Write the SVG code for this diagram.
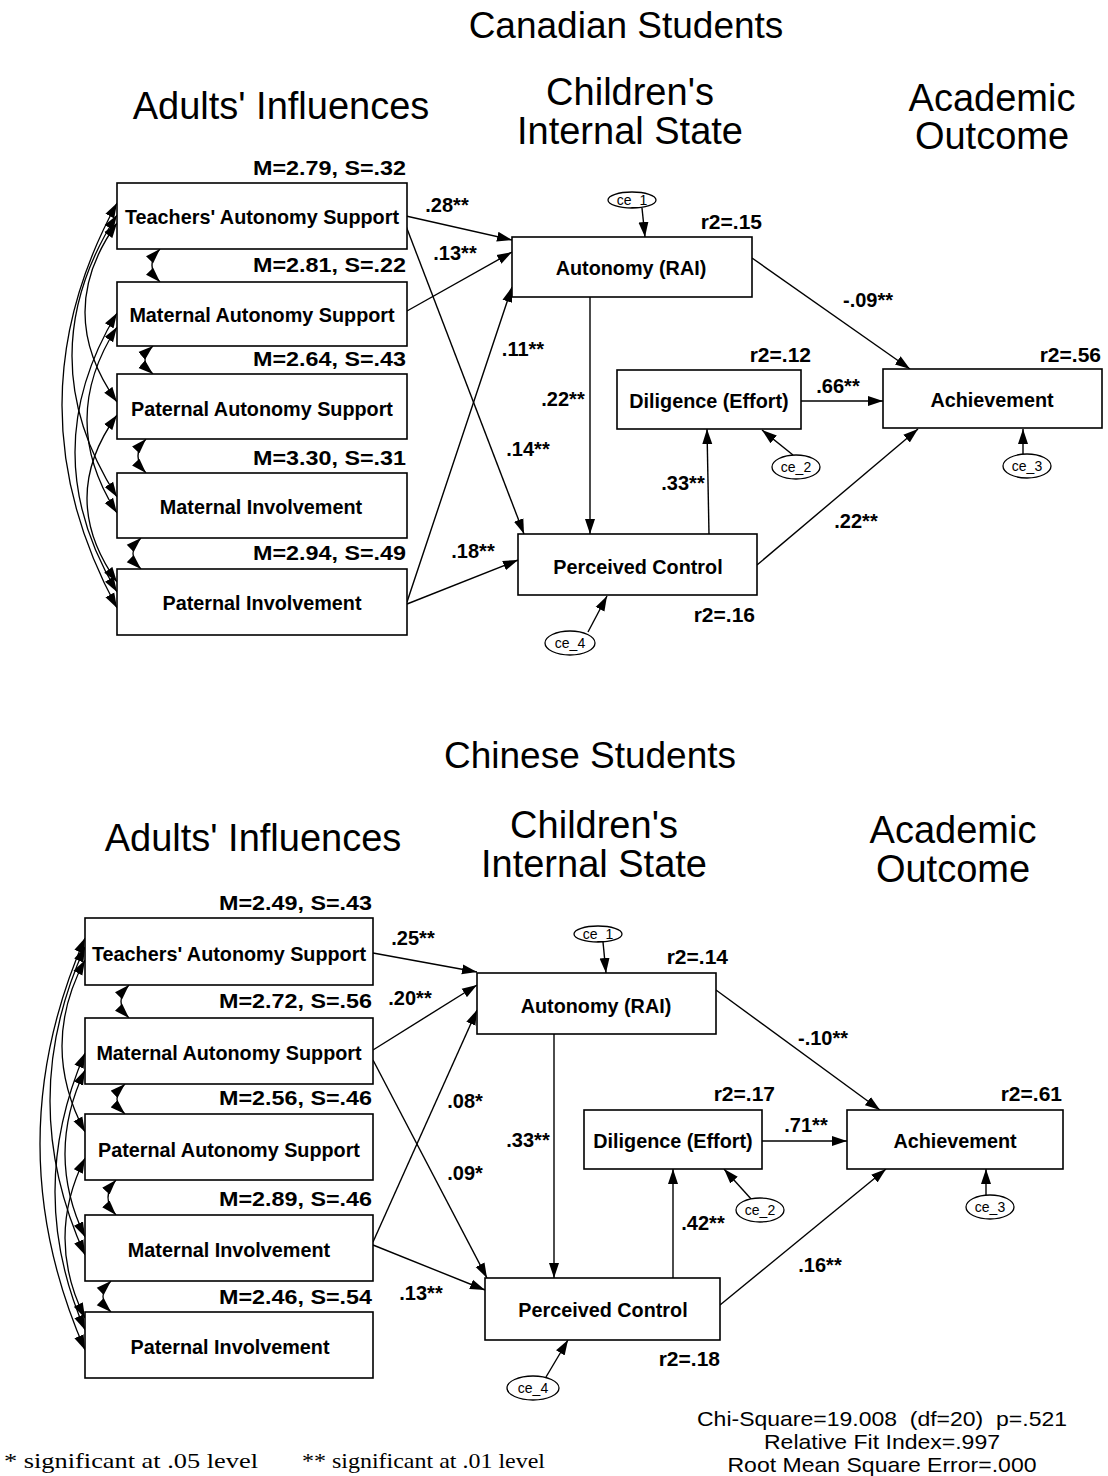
<svg xmlns="http://www.w3.org/2000/svg" width="1108" height="1476" viewBox="0 0 1108 1476">
  <defs>
    <marker id="ah" markerUnits="userSpaceOnUse" markerWidth="16" markerHeight="11" refX="15" refY="5.5" orient="auto-start-reverse">
      <path d="M0,0.5 L15,5.5 L0,10.5 z" fill="#000"/>
    </marker>
    <style>
      .box { fill: #fff; stroke: #000; stroke-width: 1.6; }
      .ell { fill: #fff; stroke: #000; stroke-width: 1.3; }
      .lbl { font-family: "Liberation Sans", Arial, sans-serif; font-weight: bold; font-size: 19.8px; text-anchor: middle; }
      .ms { font-family: "Liberation Sans", Arial, sans-serif; font-weight: bold; font-size: 21px; text-anchor: end; }
      .r2 { font-family: "Liberation Sans", Arial, sans-serif; font-weight: bold; font-size: 21px; text-anchor: end; }
      .coef { font-family: "Liberation Sans", Arial, sans-serif; font-weight: bold; font-size: 20px; text-anchor: middle; }
      .err { font-family: "Liberation Sans", Arial, sans-serif; font-size: 14px; text-anchor: middle; }
      .title { font-family: "Liberation Sans", Arial, sans-serif; font-size: 37px; text-anchor: middle; }
      .head { font-family: "Liberation Sans", Arial, sans-serif; font-size: 38px; text-anchor: middle; }
      .fit { font-family: "Liberation Sans", Arial, sans-serif; font-size: 21px; text-anchor: middle; white-space: pre; }
      .note { font-family: "Liberation Serif", "Times New Roman", serif; font-size: 22px; }
      .path { fill: none; stroke: #000; stroke-width: 1.4; marker-end: url(#ah); }
      .cov { fill: none; stroke: #000; stroke-width: 1.3; marker-start: url(#ah); marker-end: url(#ah); }
    </style>
  </defs>

  <rect width="1108" height="1476" fill="#fff"/>

  <!-- ===================== Canadian model ===================== -->
  <text class="title" x="626" y="38">Canadian Students</text>
  <text class="head" x="281" y="119">Adults' Influences</text>
  <text class="head" x="630" y="105">Children's</text>
  <text class="head" x="630" y="144">Internal State</text>
  <text class="head" x="992" y="111">Academic</text>
  <text class="head" x="992" y="149">Outcome</text>

  <g id="ca-connectors">
    <!-- covariances among adult influences -->
    <path class="cov" d="M117,203 Q7,405 117,608"/>
    <path class="cov" d="M117,215 Q27,356 117,497"/>
    <path class="cov" d="M117,223 Q53,312 117,402"/>
    <path class="cov" d="M117,313 Q33,452 117,592"/>
    <path class="cov" d="M117,327 Q57,420 117,513"/>
    <path class="cov" d="M117,415 Q57,498 117,582"/>
    <path class="cov" d="M160,249 Q144,265.5 160,282"/>
    <path class="cov" d="M153,346 Q137,360 153,374"/>
    <path class="cov" d="M146,439 Q130,456 146,473"/>
    <path class="cov" d="M141,538 Q125,553.5 141,569"/>
    <!-- structural paths -->
    <path class="path" d="M406,216 L512,240"/>
    <path class="path" d="M407,311 L512,252"/>
    <path class="path" d="M407,602 L512,287"/>
    <path class="path" d="M406,226 L524,534"/>
    <path class="path" d="M407,604 L518,560"/>
    <path class="path" d="M590,297 L590,534"/>
    <path class="path" d="M709,534 L707,429"/>
    <path class="path" d="M757,565 L918,429"/>
    <path class="path" d="M752,258 L910,369"/>
    <path class="path" d="M801,401 L883,401"/>
    <!-- residual errors -->
    <path class="path" d="M642,208 L645,237"/>
    <path class="path" d="M793,455 L762,430"/>
    <path class="path" d="M1023,454 L1023,429"/>
    <path class="path" d="M588,632 L607,596"/>
    <!-- coefficients -->
    <text class="coef" x="447" y="212">.28**</text>
    <text class="coef" x="455" y="260">.13**</text>
    <text class="coef" x="523" y="356">.11**</text>
    <text class="coef" x="563" y="406">.22**</text>
    <text class="coef" x="528" y="456">.14**</text>
    <text class="coef" x="683" y="490">.33**</text>
    <text class="coef" x="856" y="528">.22**</text>
    <text class="coef" x="868" y="307">-.09**</text>
    <text class="coef" x="838" y="393">.66**</text>
    <text class="coef" x="473" y="558">.18**</text>
  </g>

  <g id="ca-teachers-autonomy">
    <rect class="box" x="117" y="183" width="290" height="66"/>
    <text class="lbl" x="262" y="224">Teachers' Autonomy Support</text>
    <text class="ms" x="406" y="175" textLength="153" lengthAdjust="spacingAndGlyphs">M=2.79, S=.32</text>
  </g>
  <g id="ca-maternal-autonomy">
    <rect class="box" x="117" y="282" width="290" height="64"/>
    <text class="lbl" x="262" y="322">Maternal Autonomy Support</text>
    <text class="ms" x="406" y="272" textLength="153" lengthAdjust="spacingAndGlyphs">M=2.81, S=.22</text>
  </g>
  <g id="ca-paternal-autonomy">
    <rect class="box" x="117" y="374" width="290" height="65"/>
    <text class="lbl" x="262" y="416">Paternal Autonomy Support</text>
    <text class="ms" x="406" y="366" textLength="153" lengthAdjust="spacingAndGlyphs">M=2.64, S=.43</text>
  </g>
  <g id="ca-maternal-involvement">
    <rect class="box" x="117" y="473" width="290" height="65"/>
    <text class="lbl" x="261" y="514">Maternal Involvement</text>
    <text class="ms" x="406" y="465" textLength="153" lengthAdjust="spacingAndGlyphs">M=3.30, S=.31</text>
  </g>
  <g id="ca-paternal-involvement">
    <rect class="box" x="117" y="569" width="290" height="66"/>
    <text class="lbl" x="262" y="610">Paternal Involvement</text>
    <text class="ms" x="406" y="560" textLength="153" lengthAdjust="spacingAndGlyphs">M=2.94, S=.49</text>
  </g>
  <g id="ca-autonomy">
    <rect class="box" x="512" y="237" width="240" height="60"/>
    <text class="lbl" x="631" y="275">Autonomy (RAI)</text>
    <text class="r2" x="762" y="229">r2=.15</text>
  </g>
  <g id="ca-diligence">
    <rect class="box" x="617" y="370" width="184" height="59"/>
    <text class="lbl" x="709" y="408">Diligence (Effort)</text>
    <text class="r2" x="811" y="362">r2=.12</text>
  </g>
  <g id="ca-achievement">
    <rect class="box" x="883" y="369" width="219" height="59"/>
    <text class="lbl" x="992" y="407">Achievement</text>
    <text class="r2" x="1101" y="362">r2=.56</text>
  </g>
  <g id="ca-control">
    <rect class="box" x="518" y="534" width="239" height="61"/>
    <text class="lbl" x="638" y="574">Perceived Control</text>
    <text class="r2" x="755" y="622">r2=.16</text>
  </g>
  <g id="ca-ce1">
    <ellipse class="ell" cx="632" cy="200" rx="24" ry="8"/>
    <text class="err" x="632" y="205">ce_1</text>
  </g>
  <g id="ca-ce2">
    <ellipse class="ell" cx="796" cy="467" rx="24" ry="12"/>
    <text class="err" x="796" y="472">ce_2</text>
  </g>
  <g id="ca-ce3">
    <ellipse class="ell" cx="1027" cy="466" rx="24" ry="12"/>
    <text class="err" x="1027" y="471">ce_3</text>
  </g>
  <g id="ca-ce4">
    <ellipse class="ell" cx="570" cy="643" rx="25" ry="12"/>
    <text class="err" x="570" y="648">ce_4</text>
  </g>

  <!-- ===================== Chinese model ===================== -->
  <text class="title" x="590" y="768">Chinese Students</text>
  <text class="head" x="253" y="851">Adults' Influences</text>
  <text class="head" x="594" y="838">Children's</text>
  <text class="head" x="594" y="877">Internal State</text>
  <text class="head" x="953" y="843">Academic</text>
  <text class="head" x="953" y="882">Outcome</text>

  <g id="cn-connectors">
    <!-- covariances among adult influences -->
    <path class="cov" d="M85,938 Q-5,1144 85,1350"/>
    <path class="cov" d="M85,947 Q15,1101 85,1255"/>
    <path class="cov" d="M85,960 Q39,1046 85,1132"/>
    <path class="cov" d="M85,1053 Q25,1192 85,1330"/>
    <path class="cov" d="M85,1070 Q45,1154 85,1237"/>
    <path class="cov" d="M85,1158 Q45,1238 85,1318"/>
    <path class="cov" d="M129,985 Q113,1001.5 129,1018"/>
    <path class="cov" d="M125,1084 Q109,1099 125,1114"/>
    <path class="cov" d="M116,1180 Q100,1197.5 116,1215"/>
    <path class="cov" d="M111,1281 Q95,1296.5 111,1312"/>
    <!-- structural paths -->
    <path class="path" d="M373,953 L477,972"/>
    <path class="path" d="M373,1050 L477,985"/>
    <path class="path" d="M373,1242 L477,1010"/>
    <path class="path" d="M373,1060 L487,1278"/>
    <path class="path" d="M373,1245 L485,1290"/>
    <path class="path" d="M554,1034 L554,1278"/>
    <path class="path" d="M673,1278 L673,1169"/>
    <path class="path" d="M720,1305 L886,1169"/>
    <path class="path" d="M716,990 L880,1110"/>
    <path class="path" d="M762,1141 L847,1141"/>
    <!-- residual errors -->
    <path class="path" d="M603,942 L606,973"/>
    <path class="path" d="M752,1200 L724,1169"/>
    <path class="path" d="M986,1195 L986,1169"/>
    <path class="path" d="M546,1377 L568,1340"/>
    <!-- coefficients -->
    <text class="coef" x="413" y="945">.25**</text>
    <text class="coef" x="410" y="1005">.20**</text>
    <text class="coef" x="465" y="1108">.08*</text>
    <text class="coef" x="465" y="1180">.09*</text>
    <text class="coef" x="421" y="1300">.13**</text>
    <text class="coef" x="528" y="1147">.33**</text>
    <text class="coef" x="703" y="1230">.42**</text>
    <text class="coef" x="820" y="1272">.16**</text>
    <text class="coef" x="823" y="1045">-.10**</text>
    <text class="coef" x="806" y="1132">.71**</text>
  </g>

  <g id="cn-teachers-autonomy">
    <rect class="box" x="85" y="918" width="288" height="67"/>
    <text class="lbl" x="229" y="961">Teachers' Autonomy Support</text>
    <text class="ms" x="372" y="910" textLength="153" lengthAdjust="spacingAndGlyphs">M=2.49, S=.43</text>
  </g>
  <g id="cn-maternal-autonomy">
    <rect class="box" x="85" y="1018" width="288" height="66"/>
    <text class="lbl" x="229" y="1060">Maternal Autonomy Support</text>
    <text class="ms" x="372" y="1008" textLength="153" lengthAdjust="spacingAndGlyphs">M=2.72, S=.56</text>
  </g>
  <g id="cn-paternal-autonomy">
    <rect class="box" x="85" y="1114" width="288" height="66"/>
    <text class="lbl" x="229" y="1157">Paternal Autonomy Support</text>
    <text class="ms" x="372" y="1105" textLength="153" lengthAdjust="spacingAndGlyphs">M=2.56, S=.46</text>
  </g>
  <g id="cn-maternal-involvement">
    <rect class="box" x="85" y="1215" width="288" height="66"/>
    <text class="lbl" x="229" y="1257">Maternal Involvement</text>
    <text class="ms" x="372" y="1206" textLength="153" lengthAdjust="spacingAndGlyphs">M=2.89, S=.46</text>
  </g>
  <g id="cn-paternal-involvement">
    <rect class="box" x="85" y="1312" width="288" height="66"/>
    <text class="lbl" x="230" y="1354">Paternal Involvement</text>
    <text class="ms" x="372" y="1304" textLength="153" lengthAdjust="spacingAndGlyphs">M=2.46, S=.54</text>
  </g>
  <g id="cn-autonomy">
    <rect class="box" x="477" y="973" width="239" height="61"/>
    <text class="lbl" x="596" y="1013">Autonomy (RAI)</text>
    <text class="r2" x="728" y="964">r2=.14</text>
  </g>
  <g id="cn-diligence">
    <rect class="box" x="584" y="1110" width="178" height="59"/>
    <text class="lbl" x="673" y="1148">Diligence (Effort)</text>
    <text class="r2" x="775" y="1101">r2=.17</text>
  </g>
  <g id="cn-achievement">
    <rect class="box" x="847" y="1110" width="216" height="59"/>
    <text class="lbl" x="955" y="1148">Achievement</text>
    <text class="r2" x="1062" y="1101">r2=.61</text>
  </g>
  <g id="cn-control">
    <rect class="box" x="485" y="1278" width="235" height="62"/>
    <text class="lbl" x="603" y="1317">Perceived Control</text>
    <text class="r2" x="720" y="1366">r2=.18</text>
  </g>
  <g id="cn-ce1">
    <ellipse class="ell" cx="598" cy="934" rx="24" ry="8"/>
    <text class="err" x="598" y="939">ce_1</text>
  </g>
  <g id="cn-ce2">
    <ellipse class="ell" cx="760" cy="1210" rx="24" ry="12"/>
    <text class="err" x="760" y="1215">ce_2</text>
  </g>
  <g id="cn-ce3">
    <ellipse class="ell" cx="990" cy="1207" rx="24" ry="12"/>
    <text class="err" x="990" y="1212">ce_3</text>
  </g>
  <g id="cn-ce4">
    <ellipse class="ell" cx="533" cy="1388" rx="26" ry="12"/>
    <text class="err" x="533" y="1393">ce_4</text>
  </g>

  <!-- fit statistics and legend -->
  <text class="fit" x="882" y="1426" textLength="370" lengthAdjust="spacingAndGlyphs">Chi-Square=19.008  (df=20)  p=.521</text>
  <text class="fit" x="882" y="1449" textLength="236" lengthAdjust="spacingAndGlyphs">Relative Fit Index=.997</text>
  <text class="fit" x="882" y="1472" textLength="309" lengthAdjust="spacingAndGlyphs">Root Mean Square Error=.000</text>
  <text class="note" x="4" y="1468" textLength="254" lengthAdjust="spacingAndGlyphs">* significant at .05 level</text>
  <text class="note" x="302" y="1468" textLength="243" lengthAdjust="spacingAndGlyphs">** significant at .01 level</text>
</svg>
